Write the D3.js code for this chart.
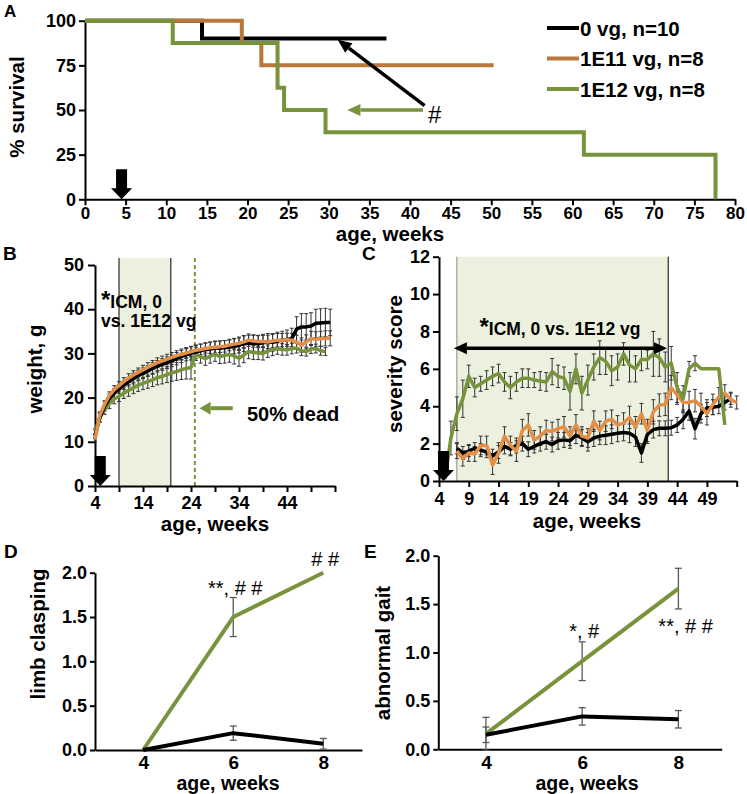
<!DOCTYPE html>
<html><head><meta charset="utf-8">
<script src="https://cdn.jsdelivr.net/npm/d3@7"></script>
<style>
body{margin:0;background:#fff;}
svg text{font-family:"Liberation Sans",Arial,sans-serif;}
</style></head><body><svg id="c" width="747" height="794"></svg>
<script>
// ---------- DATA ----------
// Panel A: Kaplan-Meier survival
const survLabels = ["0 vg, n=10", "1E11 vg, n=8", "1E12 vg, n=8"];
const survWeeks0 = [0, 14.4, 37.1];
const survPct0   = [100, 90, 90];
const survWeeks1 = [0, 19.3, 21.7, 50.3];
const survPct1   = [100, 87.5, 75, 75];
const survWeeks2 = [0, 10.8, 23.7, 24.5, 29.6, 61.4, 77.6];
const survPct2   = [100, 87.5, 62.5, 50, 37.5, 25, 0];
const aXTicks = [0,5,10,15,20,25,30,35,40,45,50,55,60,65,70,75,80];
const aYTicks = [0,25,50,75,100];

// Panel B: weight (g) by week
const bWeeks = [4,5,6,7,8,9,10,11,12,13,14,15,16,17,18,19,20,21,22,23,24,25,26,27,28,29,30,31,32,33,34,35,36,37,38,39,40,41,42,43,44,45,46,47,48,49,50,51,52,53];
const bBlack = [11.2,15.5,18,19.8,21,22,22.8,23.6,24.3,25,25.5,26,26.6,27.1,27.5,27.9,28.3,28.8,29.3,29.7,30,30.3,30.6,30.9,31,31.2,31.2,31.3,31.4,31.6,31.8,32.2,32.3,32.3,32.2,32.4,32.6,32.5,32.8,33,33.1,33.4,35.5,36,36,36.2,36.8,36.9,37,37];
const bOrange = [10.5,16,18.5,20.5,21.8,22.7,23.6,24.4,25.1,25.7,26.3,26.9,27.4,27.9,28.3,28.7,29.1,29.5,29.8,30.1,30.4,30.7,30.9,31.1,31.3,31.4,31.5,31.6,31.9,32.1,32.3,32.6,33,32.8,32.7,32.7,32.6,32.8,33,33,33.1,33,32.5,31.9,32.6,33.4,33.2,33.3,33.4,33.4];
const bGreen = [12.3,15.5,17.2,18.6,19.7,20.3,21,21.6,22.2,22.8,23.2,23.6,24,24.5,24.8,25.2,25.6,25.9,26.3,26.6,26.8,29.9,29.2,28.8,29.3,29.8,29.3,29.5,29.8,29.4,28.9,29.6,30.4,30.2,30.1,30,30.5,30.9,31.1,30.9,30.8,31.1,31.2,30.6,30.4,31,31.1,30.6,30.4,null];
const bBlackErr = [0.5,1,1,1,1,1,1,1,1.2,1.2,1.2,1.2,1.3,1.3,1.3,1.3,1.3,1.4,1.4,1.4,1.5,1.5,1.5,1.5,1.5,1.6,1.6,1.6,1.6,1.7,1.7,1.8,1.8,1.8,1.8,1.9,1.9,2,2,2,2.2,2.3,2.8,3,3,3,3.2,3.2,3.2,3];
const bOrangeErr = [0.5,0.8,0.8,0.8,0.9,0.9,0.9,1,1,1,1,1,1,1.1,1.1,1.1,1.1,1.1,1.2,1.2,1.2,1.2,1.2,1.2,1.3,1.3,1.3,1.3,1.3,1.3,1.4,1.4,1.4,1.4,1.4,1.4,1.5,1.5,1.5,1.5,1.5,1.5,1.6,1.6,1.6,1.6,1.7,1.7,1.7,1.7];
const bGreenErr = [0.6,1,1,1.1,1.1,1.2,1.2,1.3,1.3,1.4,1.4,1.5,1.5,1.6,1.7,1.8,1.9,2,2.2,2.4,2.6,1.5,1.4,1.5,1.5,1.6,1.6,1.7,1.8,1.8,1.8,1.7,1.6,1.6,1.5,1.5,1.4,1.4,1.3,1.3,1.2,1.2,1.1,1.1,1,1,1,1,0.9,null];
const bXTicks = [4,9,14,19,24,29,34,39,44,49,54];
const bXLabels = [4,14,24,34,44];
const bYTicks = [0,10,20,30,40,50];

// Panel C: severity score by week
const cWeeks = [5,6,7,8,9,10,11,12,13,14,15,16,17,18,19,20,21,22,23,24,25,26,27,28,29,30,31,32,33,34,35,36,37,38,39,40,41,42,43,44,45,46,47,48,49,50,51,52,53,54];
const cGreen = [0.1,2.3,3.6,4.4,5.6,5.0,5.2,5.4,5.6,5.75,5.3,5.0,5.3,5.5,5.5,5.4,5.35,5.3,5.85,5.6,5.5,4.8,6.0,4.7,5.4,6.1,6.6,6.4,5.9,6.1,6.8,6.2,6.0,6.5,6.5,6.8,6.6,6.1,6.3,5.0,4.4,6.0,6.3,6.0,6.0,6.0,6.0,3.0,null,null];
const cGreenErr = [0,0.9,0.9,1.0,0.6,0.5,0.4,0.5,0.5,0.5,0.5,0.6,0.5,0.5,0.5,0.4,0.5,0.5,0.7,0.6,0.6,1.0,0.8,0.9,0.8,0.7,0.9,0.7,0.8,0.7,0.6,0.9,0.7,0.6,0.5,1.2,1.0,0.8,0.9,0.8,0.7,0.4,0.4,0,0,0,0,0,null,null];
const cBlack = [null,null,1.75,1.5,1.6,1.75,1.65,1.55,1.35,1.55,1.85,1.7,1.9,2.0,1.7,1.85,2.0,2.1,1.95,2.15,2.2,2.15,2.45,2.3,2.1,2.3,2.4,2.45,2.5,2.55,2.6,2.55,2.35,1.5,2.5,2.75,2.82,2.82,2.85,3.0,3.3,3.75,2.8,3.6,3.9,3.95,4.0,4.2,4.4,null];
const cBlackErr = [null,null,0.3,0.35,0.3,0.3,0.35,0.3,0.35,0.35,0.4,0.35,0.4,0.4,0.4,0.35,0.4,0.4,0.4,0.45,0.4,0.4,0.45,0.45,0.5,0.45,0.45,0.5,0.5,0.45,0.45,0.5,0.5,0.5,0.5,0.45,0.4,0.4,0.4,0.4,0.5,0.5,0.55,0.5,0.45,0.4,0.4,0.4,0.3,null];
const cOrange = [null,null,1.6,1.2,1.5,1.45,1.9,1.9,0.85,1.5,2.4,1.9,1.6,2.7,3.0,2.2,2.4,2.7,2.65,2.8,2.9,2.4,3.0,2.4,2.3,3.2,2.7,3.2,3.3,3.0,3.1,3.4,2.9,3.6,2.7,3.7,4.06,4.1,5.0,4.6,4.2,4.2,4.3,4.0,3.6,4.1,4.5,4.7,4.35,4.2];
const cOrangeErr = [null,null,0.4,0.4,0.45,0.4,0.5,0.5,0.5,0.55,0.5,0.5,0.55,0.6,0.6,0.5,0.5,0.55,0.5,0.5,0.55,0.5,0.55,0.5,0.5,0.55,0.5,0.55,0.5,0.5,0.55,0.6,0.55,0.55,0.6,0.65,0.6,0.6,0.65,0.5,0.55,0.6,0.6,0.7,0.6,0.55,0.5,0.45,0.4,0.35];
const cXTicks = [4,9,14,19,24,29,34,39,44,49,54];
const cXLabels = [4,9,14,19,24,29,34,39,44,49];
const cYTicks = [0,2,4,6,8,10,12];

// Panel D: limb clasping
const dWeeks = [4,6,8];
const dGreen = [0, 1.5, 2.0];
const dGreenErr = [0, 0.22, 0];
const dBlack = [0, 0.19, 0.07];
const dBlackErr = [0, 0.08, 0.06];
const dYTicks = [0,0.5,1.0,1.5,2.0];

// Panel E: abnormal gait
const eWeeks = [4,6,8];
const eGreen = [0.16, 0.91, 1.66];
const eGreenErr = [0.17, 0.2, 0.21];
const eBlack = [0.15, 0.34, 0.31];
const eBlackErr = [0.08, 0.09, 0.09];
const eYTicks = [0,0.5,1.0,1.5,2.0];

// ---------- STYLE ----------
const C_BLACK = "#000000", C_GREEN = "#77933c", C_ORANGE_A = "#b9773b", C_ORANGE = "#e38f48", C_SHADE = "#ebf1de";
const TICK_FS = 18, TITLE_FS = 20.5;

const svg = d3.select("#c");
svg.append("rect").attr("width", 747).attr("height", 794).attr("fill", "#fff");

function styleAxis(g, fs) {
  g.selectAll(".domain").attr("stroke", "#000").attr("stroke-width", 2);
  g.selectAll(".tick line").attr("stroke", "#000").attr("stroke-width", 2);
  g.selectAll(".tick text").attr("font-weight", "bold").attr("font-size", fs).attr("fill", "#000")
    .attr("font-family", '"Liberation Sans", Arial, sans-serif');
}
function boldText(g, x, y, txt, fs, anchor, rot) {
  const t = g.append("text").attr("x", x).attr("y", y).attr("font-weight", "bold")
    .attr("font-size", fs).attr("text-anchor", anchor || "start").attr("fill", "#000").text(txt);
  if (rot) t.attr("transform", `rotate(-90,${x},${y})`);
  return t;
}
function downArrow(g, cx, tipY) {
  const bw = 5.5, hw = 10.5, top = tipY - 30, hs = tipY - 11;
  g.append("path").attr("d", `M${cx-bw},${top}L${cx+bw},${top}L${cx+bw},${hs}L${cx+hw},${hs}L${cx},${tipY}L${cx-hw},${hs}L${cx-bw},${hs}Z`).attr("fill", "#000");
}
function lineArrow(g, x1, y1, x2, y2, color, w, hl, hw) {
  const a = Math.atan2(y2 - y1, x2 - x1);
  const bx = x2 - hl * Math.cos(a), by = y2 - hl * Math.sin(a);
  g.append("line").attr("x1", x1).attr("y1", y1).attr("x2", bx).attr("y2", by).attr("stroke", color).attr("stroke-width", w);
  const px = -Math.sin(a) * hw / 2, py = Math.cos(a) * hw / 2;
  g.append("path").attr("d", `M${x2},${y2}L${bx+px},${by+py}L${bx-px},${by-py}Z`).attr("fill", color);
}
function errBars(g, xs, vals, errs, x, y, color, capW, sw) {
  xs.forEach((w, i) => {
    const v = vals[i], e = errs[i];
    if (v == null || e == null || e === 0) return;
    const px = x(w);
    g.append("line").attr("x1", px).attr("x2", px).attr("y1", y(v - e)).attr("y2", y(v + e)).attr("stroke", color).attr("stroke-width", sw);
    [v - e, v + e].forEach(c => g.append("line").attr("x1", px - capW / 2).attr("x2", px + capW / 2).attr("y1", y(c)).attr("y2", y(c)).attr("stroke", color).attr("stroke-width", sw));
  });
}
function seriesLine(g, xs, vals, x, y, color, w) {
  const pts = xs.map((d, i) => [d, vals[i]]);
  g.append("path").datum(pts).attr("fill", "none").attr("stroke", color).attr("stroke-width", w)
    .attr("stroke-linejoin", "round")
    .attr("d", d3.line().defined(d => d[1] != null).x(d => x(d[0])).y(d => y(d[1])));
}

// ---------- PANEL A ----------
{
  const g = svg.append("g");
  const x = d3.scaleLinear([0, 80], [85, 735]);
  const y = d3.scaleLinear([0, 100], [199.3, 20.7]);
  const gx = g.append("g").attr("transform", `translate(0,${y(0)})`)
    .call(d3.axisBottom(x).tickValues(aXTicks).tickSize(6).tickSizeOuter(0).tickPadding(2));
  styleAxis(gx, 17);
  const gy = g.append("g").attr("transform", `translate(${x(0)},0)`)
    .call(d3.axisLeft(y).tickValues(aYTicks).tickSize(6).tickSizeOuter(0).tickPadding(3));
  styleAxis(gy, TICK_FS);
  const step = d3.line().curve(d3.curveStepAfter).x(d => x(d[0])).y(d => y(d[1]));
  const sets = [[survWeeks0, survPct0, C_BLACK], [survWeeks1, survPct1, C_ORANGE_A], [survWeeks2, survPct2, C_GREEN]];
  sets.forEach(([w, p, c]) => {
    g.append("path").datum(w.map((d, i) => [d, p[i]])).attr("d", step).attr("fill", "none")
      .attr("stroke", c).attr("stroke-width", 4);
  });
  lineArrow(g, x(41.8), y(52.5), x(31.1), y(89.4), C_BLACK, 3.5, 14, 12);
  lineArrow(g, x(41.6), y(50), x(32.3), y(50), C_GREEN, 3.5, 13, 12);
  g.append("text").attr("x", x(42.2)).attr("y", y(42.5)).attr("font-size", 24).attr("fill", "#000").text("#");
  downArrow(g, x(4.5), y(0));
  const legCols = [C_BLACK, C_ORANGE_A, C_GREEN];
  survLabels.forEach((lab, i) => {
    const ly = 28 + i * 30.5;
    g.append("line").attr("x1", 547).attr("x2", 579).attr("y1", ly).attr("y2", ly).attr("stroke", legCols[i]).attr("stroke-width", 4);
    boldText(g, 580, ly + 7.5, lab, TITLE_FS, "start");
  });
  boldText(g, 24, 107, "% survival", TITLE_FS, "middle", true);
  boldText(g, 390, 241, "age, weeks", TITLE_FS, "middle");
  boldText(g, 4, 17, "A", 17, "start");
}

// ---------- PANEL B ----------
{
  const g = svg.append("g");
  const x = d3.scaleLinear([4, 54], [95, 335]);
  const y = d3.scaleLinear([0, 50], [486, 265]);
  g.append("rect").attr("x", x(9)).attr("width", x(19.8) - x(9)).attr("y", y(51.6)).attr("height", y(0) - y(51.6)).attr("fill", C_SHADE);
  [9, 19.8].forEach(w => g.append("line").attr("x1", x(w)).attr("x2", x(w)).attr("y1", y(51.6)).attr("y2", y(0)).attr("stroke", "#000").attr("stroke-width", 1));
  g.append("line").attr("x1", x(24.8)).attr("x2", x(24.8)).attr("y1", y(51.6)).attr("y2", y(0)).attr("stroke", C_GREEN).attr("stroke-width", 2).attr("stroke-dasharray", "4,3");
  const gx = g.append("g").attr("transform", `translate(0,${y(0)})`)
    .call(d3.axisBottom(x).tickValues(bXTicks).tickSize(6).tickSizeOuter(0).tickPadding(4).tickFormat(d => bXLabels.includes(d) ? d : ""));
  styleAxis(gx, TICK_FS);
  const gy = g.append("g").attr("transform", `translate(${x(4)},0)`)
    .call(d3.axisLeft(y).tickValues(bYTicks).tickSize(7).tickSizeOuter(0).tickPadding(4));
  styleAxis(gy, TICK_FS);
  errBars(g, bWeeks, bGreen, bGreenErr, x, y, "#333", 4, 1);
  errBars(g, bWeeks, bBlack, bBlackErr, x, y, "#333", 4, 1);
  errBars(g, bWeeks, bOrange, bOrangeErr, x, y, "#333", 4, 1);
  seriesLine(g, bWeeks, bGreen, x, y, C_GREEN, 3.5);
  seriesLine(g, bWeeks, bBlack, x, y, C_BLACK, 3.5);
  seriesLine(g, bWeeks, bOrange, x, y, C_ORANGE, 3.5);
  const t1 = g.append("text").attr("x", 101).attr("y", 308).attr("font-weight", "bold").attr("font-size", 17.5);
  t1.append("tspan").attr("font-size", 24).text("*");
  t1.append("tspan").text("ICM, 0");
  boldText(g, 101, 327, "vs. 1E12 vg", 17.5, "start");
  lineArrow(g, x(32.7), y(17.6), x(25.8), y(17.6), C_GREEN, 4, 11, 13);
  boldText(g, 247, 421, "50% dead", 20, "start");
  downArrow(g, x(5.1), y(0));
  boldText(g, 42, 369, "weight, g", TITLE_FS, "middle", true);
  boldText(g, 215, 531, "age, weeks", TITLE_FS, "middle");
  boldText(g, 3, 260, "B", 19, "start");
}

// ---------- PANEL C ----------
{
  const g = svg.append("g");
  const x = d3.scaleLinear([4, 54], [439, 736.7]);
  const y = d3.scaleLinear([0, 12], [481, 256.7]);
  g.append("rect").attr("x", x(7)).attr("width", x(42.5) - x(7)).attr("y", y(12)).attr("height", y(0) - y(12)).attr("fill", C_SHADE);
  g.append("line").attr("x1", x(7)).attr("x2", x(7)).attr("y1", y(12)).attr("y2", y(0)).attr("stroke", "#8a8a7a").attr("stroke-width", 1);
  g.append("line").attr("x1", x(42.5)).attr("x2", x(42.5)).attr("y1", y(12)).attr("y2", y(0)).attr("stroke", "#000").attr("stroke-width", 1);
  const gx = g.append("g").attr("transform", `translate(0,${y(0)})`)
    .call(d3.axisBottom(x).tickValues(cXTicks).tickSize(6).tickSizeOuter(0).tickPadding(5).tickFormat(d => cXLabels.includes(d) ? d : ""));
  styleAxis(gx, TICK_FS);
  const gy = g.append("g").attr("transform", `translate(${x(4)},0)`)
    .call(d3.axisLeft(y).tickValues(cYTicks).tickSize(6).tickSizeOuter(0).tickPadding(3));
  styleAxis(gy, TICK_FS);
  errBars(g, cWeeks, cBlack, cBlackErr, x, y, "#333", 4, 1);
  errBars(g, cWeeks, cOrange, cOrangeErr, x, y, "#333", 4, 1);
  errBars(g, cWeeks, cGreen, cGreenErr, x, y, "#333", 4, 1);
  seriesLine(g, cWeeks, cBlack, x, y, C_BLACK, 3.5);
  seriesLine(g, cWeeks, cOrange, x, y, C_ORANGE, 3.5);
  seriesLine(g, cWeeks, cGreen, x, y, C_GREEN, 3.5);
  const ay = y(7.1), ax1 = x(6.5), ax2 = x(42.3), hl = 13;
  g.append("line").attr("x1", ax1 + hl).attr("x2", ax2 - hl).attr("y1", ay).attr("y2", ay).attr("stroke", "#000").attr("stroke-width", 3.5);
  g.append("path").attr("d", `M${ax1},${ay}L${ax1+hl},${ay-6}L${ax1+hl},${ay+6}Z`).attr("fill", "#000");
  g.append("path").attr("d", `M${ax2},${ay}L${ax2-hl},${ay-6}L${ax2-hl},${ay+6}Z`).attr("fill", "#000");
  const t = g.append("text").attr("x", 560).attr("y", 335).attr("text-anchor", "middle").attr("font-weight", "bold").attr("font-size", 17.5);
  t.append("tspan").attr("font-size", 24).text("*");
  t.append("tspan").text("ICM, 0 vs. 1E12 vg");
  downArrow(g, x(4.75), y(0));
  boldText(g, 402, 364, "severity score", TITLE_FS, "middle", true);
  boldText(g, 587, 528, "age, weeks", TITLE_FS, "middle");
  boldText(g, 362, 260, "C", 19, "start");
}

// ---------- PANEL D ----------
{
  const g = svg.append("g");
  const x = d3.scaleLinear([2.93, 8.86], [95, 362]);
  const y = d3.scaleLinear([0, 2], [750, 572.7]);
  const gx = g.append("g").attr("transform", `translate(0,${y(0)})`)
    .call(d3.axisBottom(x).tickValues(dWeeks).tickSize(0).tickSizeOuter(0).tickPadding(6).tickFormat(d3.format("d")));
  styleAxis(gx, 19);
  const gy = g.append("g").attr("transform", `translate(${x.range()[0]},0)`)
    .call(d3.axisLeft(y).tickValues(dYTicks).tickSize(5).tickSizeOuter(0).tickPadding(3).tickFormat(d3.format(".1f")));
  styleAxis(gy, TICK_FS);
  errBars(g, dWeeks, dGreen, dGreenErr, x, y, "#595959", 7, 1.3);
  errBars(g, dWeeks, dBlack, dBlackErr, x, y, "#595959", 7, 1.3);
  seriesLine(g, dWeeks, dGreen, x, y, C_GREEN, 4);
  seriesLine(g, dWeeks, dBlack, x, y, C_BLACK, 4);
  g.append("text").attr("x", x(6) + 2).attr("y", y(1.75)).attr("text-anchor", "middle").attr("font-size", 20).text("**, # #");
  g.append("text").attr("x", x(8) + 2).attr("y", y(2.07)).attr("text-anchor", "middle").attr("font-size", 20).text("# #");
  boldText(g, 45, 634, "limb clasping", TITLE_FS, "middle", true);
  boldText(g, 228, 789.5, "age, weeks", 19.5, "middle");
  boldText(g, 4, 558, "D", 19, "start");
}

// ---------- PANEL E ----------
{
  const g = svg.append("g");
  const x = d3.scaleLinear([3.01, 8.9], [438.3, 721.7]);
  const y = d3.scaleLinear([0, 2], [749.3, 555.7]);
  const gx = g.append("g").attr("transform", `translate(0,${y(0)})`)
    .call(d3.axisBottom(x).tickValues(eWeeks).tickSize(0).tickSizeOuter(0).tickPadding(6).tickFormat(d3.format("d")));
  styleAxis(gx, 19);
  const gy = g.append("g").attr("transform", `translate(${x.range()[0]},0)`)
    .call(d3.axisLeft(y).tickValues(eYTicks).tickSize(5).tickSizeOuter(0).tickPadding(3).tickFormat(d3.format(".1f")));
  styleAxis(gy, TICK_FS);
  errBars(g, eWeeks, eGreen, eGreenErr, x, y, "#595959", 7, 1.3);
  errBars(g, eWeeks, eBlack, eBlackErr, x, y, "#595959", 7, 1.3);
  seriesLine(g, eWeeks, eGreen, x, y, C_GREEN, 4);
  seriesLine(g, eWeeks, eBlack, x, y, C_BLACK, 4);
  g.append("text").attr("x", x(6) + 2).attr("y", y(1.15)).attr("text-anchor", "middle").attr("font-size", 20).text("*, #");
  g.append("text").attr("x", x(8.15)).attr("y", y(1.2)).attr("text-anchor", "middle").attr("font-size", 20).text("**, # #");
  boldText(g, 390, 653, "abnormal gait", TITLE_FS, "middle", true);
  boldText(g, 587, 789.5, "age, weeks", 19.5, "middle");
  boldText(g, 364, 558, "E", 19, "start");
}
</script></body></html>
